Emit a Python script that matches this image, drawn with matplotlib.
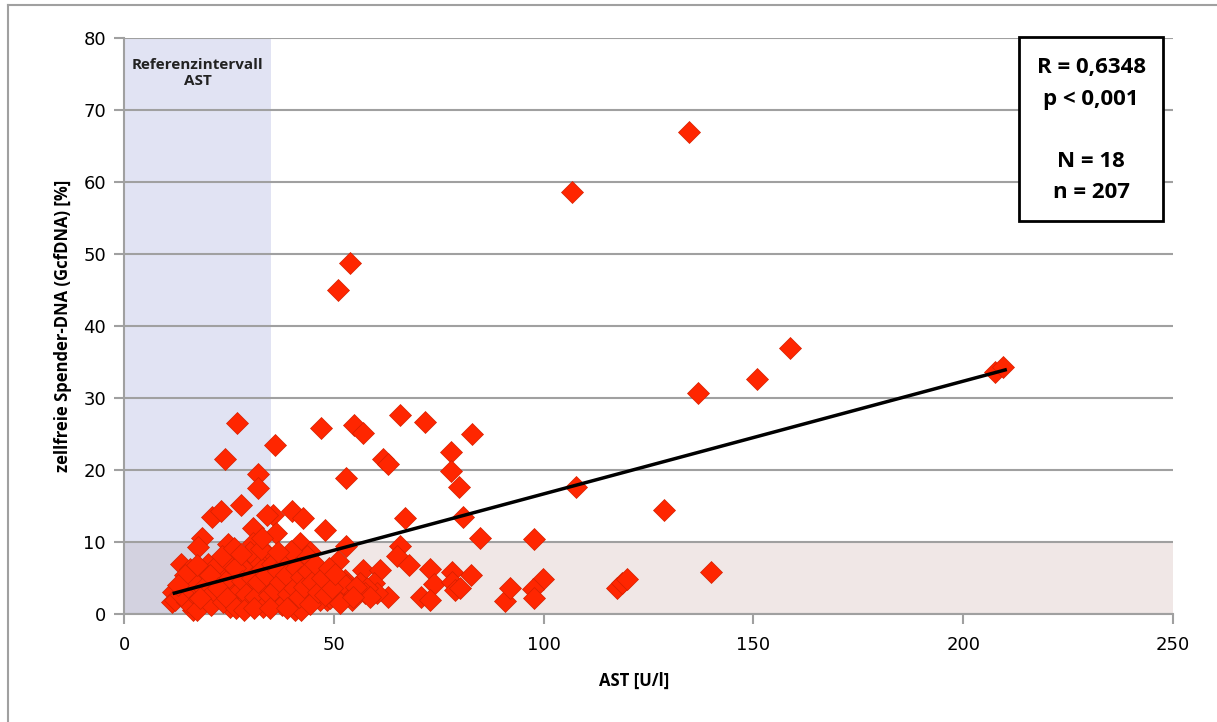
import numpy as np
import matplotlib.pyplot as plt
from matplotlib.patches import Rectangle
from matplotlib.lines import Line2D

# --- Daten ---
ast = [
    134.6, 106.8, 53.9, 51.0, 158.7, 150.9, 136.8, 207.6, 209.5, 128.7,
    107.8, 139.9, 97.7, 99.8, 97.5, 97.7, 90.8, 92.0, 117.4, 118.7,
    119.8, 84.8, 82.8,
    36.0, 46.9, 54.8, 56.9, 65.8, 71.8, 82.9, 61.8, 63.0, 77.9,
    77.9, 79.8, 52.9, 67.0, 80.9, 40.0, 42.7, 47.9, 35.6, 36.2,
    41.9, 52.9, 44.3, 51.1, 65.8, 65.0, 68.0, 72.9, 78.1, 56.9,
    61.0, 59.6, 73.9, 78.1, 78.9, 70.9, 72.9, 63.0, 60.2, 52.7,
    53.5, 54.3, 50.7, 46.7, 48.3, 45.1, 43.1, 40.8, 39.6, 38.0,
    35.6, 46.7, 43.1, 39.6, 56.2, 57.8, 53.1, 49.1, 57.4, 58.6, 80.0,
    26.9, 24.1, 31.9, 31.9, 27.9, 20.9, 23.0, 34.0, 30.8, 18.5,
    17.7, 24.9, 30.8, 13.7, 11.7, 11.4, 16.5, 20.1, 25.3, 28.0,
    18.1, 22.9, 12.2, 14.9, 17.3, 19.7, 22.9, 25.3, 27.6, 16.1,
    21.3, 25.3, 28.4, 26.9, 29.6, 34.4, 31.6, 38.0, 43.5, 28.8,
    40.8, 45.9, 48.3, 52.3, 55.4, 30.4, 33.6, 38.0, 43.5, 29.2,
    32.4, 36.4, 41.2, 46.7, 51.5, 54.6, 42.3,
    13.5, 15.2, 16.8, 18.8, 19.5, 20.8, 21.5, 22.1, 23.6, 24.2,
    24.8, 26.0, 26.4, 27.2, 28.1, 29.0, 30.0, 30.6, 31.2, 32.0,
    32.8, 33.2, 33.9, 34.6, 35.2, 35.8, 36.6, 37.2, 37.6, 38.6,
    39.2, 39.8, 40.4, 41.0, 41.6, 42.2, 42.8, 43.8, 44.4, 44.8,
    45.6, 46.2, 47.2, 47.8, 48.8, 49.6, 50.2, 23.4, 26.2, 27.8,
    32.6, 33.0, 36.8, 15.8, 17.5, 14.6, 12.8, 18.2, 20.4, 22.4,
    24.6, 26.8, 28.6, 31.0, 34.8, 38.8,
]
gcfdna = [
    66.9, 58.6, 48.7, 45.0, 36.9, 32.6, 30.7, 33.6, 34.3, 14.4,
    17.6, 5.8, 10.4, 4.8, 3.5, 2.2, 1.8, 3.6, 3.6, 4.3,
    4.9, 10.5, 5.4,
    23.5, 25.9, 26.3, 25.2, 27.7, 26.7, 25.0, 21.5, 20.8, 22.5,
    19.9, 17.7, 18.9, 13.3, 13.5, 14.3, 13.4, 11.7, 13.7, 11.2,
    9.8, 9.5, 8.6, 7.3, 9.5, 8.0, 6.8, 6.3, 5.9, 6.1,
    6.1, 4.3, 4.1, 4.5, 3.3, 2.4, 1.9, 2.3, 2.9, 4.7,
    2.9, 1.9, 3.3, 3.8, 1.9, 2.9, 2.2, 0.6, 2.2, 3.8,
    5.2, 6.1, 7.5, 7.5, 4.3, 3.6, 4.0, 2.2, 2.9, 2.4, 3.6,
    26.5, 21.5, 19.4, 17.5, 15.1, 13.5, 14.3, 13.7, 11.9, 10.5,
    9.3, 9.7, 9.8, 6.9, 3.1, 1.7, 0.6, 7.0, 8.4, 7.0,
    5.0, 5.9, 1.9, 1.7, 0.6, 1.9, 2.4, 1.0, 1.9, 3.1,
    4.0, 3.3, 3.8, 5.2, 5.7, 8.2, 7.5, 6.8, 8.0, 6.1,
    4.7, 5.6, 4.3, 4.3, 3.8, 3.8, 3.3, 3.1, 2.9, 1.7,
    1.5, 1.9, 1.5, 1.9, 1.5, 2.4, 0.6,
    2.6, 3.8, 4.4, 3.6, 2.8, 1.2, 3.2, 6.8, 1.6, 4.6,
    7.2, 2.6, 6.4, 3.0, 4.6, 2.8, 8.6, 5.0, 2.4, 4.4,
    6.2, 1.0, 5.4, 2.6, 7.0, 3.4, 6.0, 4.4, 1.2, 5.4,
    2.8, 8.8, 3.6, 6.4, 2.4, 5.2, 3.8, 6.0, 1.4, 4.4,
    7.0, 3.0, 5.0, 2.6, 6.4, 3.6, 5.6, 8.0, 9.2, 8.4,
    9.0, 10.6, 8.6, 6.2, 6.8, 5.4, 4.0, 2.2, 5.4, 3.6,
    2.2, 0.8, 0.6, 0.8, 0.9, 0.9,
]

# Regressionsgerade
trend_x = [12, 210]
trend_y = [2.9, 33.9]

# Referenzintervalle
ref_ast = (0, 35)
ref_dna = (0, 10)

x_max, y_max = 250, 80
x_ticks = [0, 50, 100, 150, 200, 250]
y_ticks = [0, 10, 20, 30, 40, 50, 60, 70, 80]

stats_lines = ["R = 0,6348", "p < 0,001", "N = 18", "n = 207"]

grey = "#A0A0A0"
bold_font = ["Open Sans", "DejaVu Sans"]

fig = plt.figure(figsize=(12.17, 7.22), dpi=100)
ax = fig.add_axes([124 / 1217, 1 - 614 / 722, 1049 / 1217, 576 / 722])

# Hintergrundbereiche
ax.add_patch(Rectangle((ref_ast[0], 0), ref_ast[1] - ref_ast[0], y_max,
                       facecolor="#E1E3F3", edgecolor="none", zorder=0.1))
ax.add_patch(Rectangle((ref_ast[1], ref_dna[0]), x_max - ref_ast[1], ref_dna[1] - ref_dna[0],
                       facecolor="#F0E7E6", edgecolor="none", zorder=0.1))
ax.add_patch(Rectangle((ref_ast[0], ref_dna[0]), ref_ast[1] - ref_ast[0], ref_dna[1] - ref_dna[0],
                       facecolor="#D3D2E0", edgecolor="none", zorder=0.2))

ax.set_axisbelow(True)
ax.yaxis.grid(True, color=grey, linewidth=1.5)

ax.plot(ast, gcfdna, linestyle="none", marker="D", markersize=11,
        markerfacecolor="#FF2600", markeredgecolor="#D42000", markeredgewidth=0.5,
        zorder=3, clip_on=False)
ax.plot(trend_x, trend_y, color="black", linewidth=2.5, zorder=4)

ax.set_xlim(0, x_max)
ax.set_ylim(0, y_max)
ax.set_xticks(x_ticks)
ax.set_yticks(y_ticks)
ax.tick_params(axis="both", direction="out", length=7, width=1.5, color=grey,
               labelsize=13)
ax.tick_params(axis="x", pad=9)
ax.tick_params(axis="y", pad=6)
for side in ["top", "right"]:
    ax.spines[side].set_visible(False)
for side in ["left", "bottom"]:
    ax.spines[side].set_color(grey)
    ax.spines[side].set_linewidth(1.5)

ax.set_xlabel("AST [U/l]", fontsize=12, fontweight="bold", family=bold_font)
ax.xaxis.set_label_coords(0.486, -0.1)
ax.set_ylabel("zellfreie Spender-DNA (GcfDNA) [%]", fontsize=12, fontweight="bold",
              family=bold_font)
ax.yaxis.set_label_coords(-0.05, 0.5)

ax.text(sum(ref_ast) / 2, 75.1, "Referenzintervall\nAST", ha="center", va="center",
        fontsize=11, fontweight="bold", family=bold_font, color="#222222",
        linespacing=1.2, zorder=5)

# Statistik-Box
ax.add_patch(Rectangle((0.853, 0.682), 0.137, 0.32, transform=ax.transAxes,
                       facecolor="white", edgecolor="black", linewidth=2,
                       zorder=6, clip_on=False))
for txt, yy in zip(stats_lines, [0.948, 0.894, 0.785, 0.731]):
    ax.text(0.922, yy, txt, transform=ax.transAxes, ha="center", va="center",
            fontsize=16, fontweight="bold", family=bold_font, zorder=7)

# Rahmen
fig.add_artist(Line2D([8 / 1217, 1], [1 - 5 / 722, 1 - 5 / 722], color=grey, linewidth=1.5))
fig.add_artist(Line2D([8 / 1217, 8 / 1217], [0, 1 - 5 / 722], color=grey, linewidth=1.5))

fig.savefig("out.png", dpi=100)
